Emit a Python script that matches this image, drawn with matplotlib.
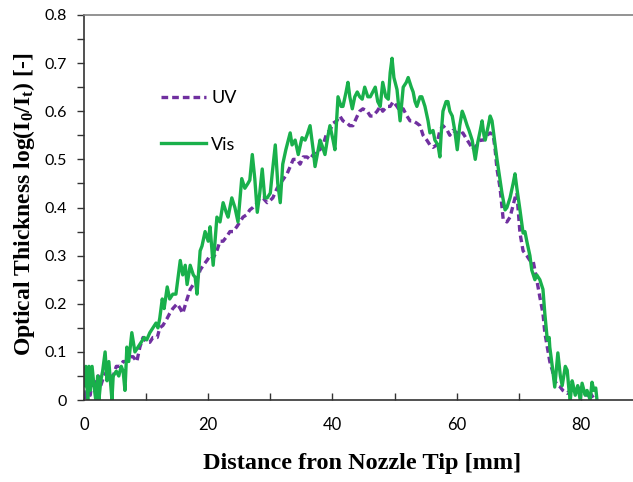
import matplotlib
matplotlib.use('Agg')
import matplotlib.pyplot as plt
from matplotlib.ticker import MultipleLocator

# Distance from nozzle tip [mm] and optical thickness
dist_uv = [0.0, 0.3, 0.6, 1.0, 1.3, 1.8, 2.3, 2.7, 3.2, 3.7, 4.2, 4.7, 5.2, 5.8, 6.3, 6.8,
           7.4, 7.9, 8.5, 9.0, 9.5, 10.1, 10.6, 11.1, 11.8, 12.2, 12.7, 13.4, 13.8, 14.3,
           15.0, 15.5, 15.9, 16.6, 17.1, 17.6, 18.2, 18.7, 19.2, 19.8, 20.3, 20.8, 21.4,
           21.9, 22.4, 23.0, 23.5, 24.0, 24.6, 25.1, 25.6, 26.2, 26.7, 27.2, 27.9, 28.3,
           28.8, 29.5, 30.0, 30.4, 31.1, 31.6, 32.0, 32.7, 33.2, 33.7, 34.3, 34.8, 35.3,
           35.9, 36.4, 36.9, 37.5, 38.0, 38.5, 39.1, 39.6, 40.1, 40.7, 41.2, 41.7, 42.4,
           42.8, 43.3, 44.0, 44.4, 44.9, 45.6, 46.1, 46.5, 47.2, 47.7, 48.1, 48.8, 49.3,
           49.8, 50.4, 50.9, 51.4, 52.0, 52.5, 53.0, 53.6, 54.1, 54.6, 55.2, 55.7, 56.2,
           56.8, 57.3, 57.8, 58.5, 58.9, 59.4, 60.1, 60.5, 61.0, 61.7, 62.2, 62.6, 63.3,
           63.8, 64.3, 64.9, 65.4, 65.9, 66.2, 66.5, 67.0, 67.5, 68.1, 68.6, 68.9, 69.4,
           69.7, 70.2, 70.7, 71.3, 71.8, 72.3, 72.9, 73.4, 73.9, 74.2, 74.6, 75.0, 75.4,
           75.8, 76.3, 76.7, 77.1, 77.8, 78.3, 78.7, 79.4, 79.9, 80.4, 81.0, 81.5, 82.0]
uv = [0.02, 0.0, 0.03, 0.01, 0.04, 0.03, 0.05, 0.03, 0.05, 0.06, 0.05, 0.05, 0.07, 0.07, 0.08, 0.08,
      0.09, 0.09, 0.08, 0.11, 0.13, 0.12, 0.12, 0.13, 0.13, 0.15, 0.155, 0.17, 0.18, 0.19,
      0.20, 0.19, 0.18, 0.21, 0.23, 0.24, 0.25, 0.27, 0.28, 0.29, 0.30, 0.295, 0.31,
      0.33, 0.33, 0.34, 0.35, 0.35, 0.36, 0.37, 0.38, 0.385, 0.395, 0.40, 0.41, 0.42,
      0.42, 0.41, 0.415, 0.42, 0.44, 0.45, 0.457, 0.47, 0.485, 0.50, 0.50, 0.49, 0.505,
      0.505, 0.50, 0.51, 0.52, 0.52, 0.53, 0.555, 0.56, 0.575, 0.58, 0.59, 0.58, 0.575,
      0.57, 0.57, 0.59, 0.60, 0.605, 0.60, 0.59, 0.59, 0.60, 0.61, 0.60, 0.61, 0.61,
      0.62, 0.61, 0.60, 0.605, 0.59, 0.58, 0.58, 0.575, 0.57, 0.55, 0.54, 0.53, 0.525,
      0.53, 0.56, 0.57, 0.56, 0.55, 0.56, 0.555, 0.55, 0.555, 0.54, 0.53, 0.52, 0.53,
      0.54, 0.54, 0.55, 0.555, 0.55, 0.52, 0.48, 0.44, 0.375, 0.37, 0.38, 0.395, 0.42,
      0.43, 0.347, 0.31, 0.30, 0.29, 0.29, 0.25, 0.214, 0.18, 0.14, 0.11, 0.08, 0.062,
      0.04, 0.03, 0.027, 0.02, 0.014, 0.02, 0.015, 0.02, 0.025, 0.02, 0.01, 0.015, 0.005]

dist_vis = [0.0, 0.3, 0.6, 0.8, 1.0, 1.3, 1.6, 1.9, 2.2, 2.4, 2.7, 3.0, 3.4, 3.7, 4.0, 4.5,
            4.7, 5.2, 5.6, 6.0, 6.3, 6.6, 6.9, 7.2, 7.7, 8.2, 8.7, 9.2, 9.7, 10.1, 10.6,
            11.1, 11.6, 11.9, 12.2, 12.6, 12.9, 13.4, 13.8, 14.3, 14.8, 15.5, 15.9, 16.3,
            16.6, 17.1, 17.6, 17.9, 18.2, 18.7, 19.0, 19.5, 20.0, 20.3, 20.8, 21.4, 21.9,
            22.4, 22.9, 23.2, 23.8, 24.3, 24.8, 25.4, 25.9, 26.4, 26.7, 27.1, 27.5, 27.9,
            28.3, 28.7, 29.1, 29.5, 30.0, 30.3, 30.8, 31.2, 31.6, 32.0, 32.5, 33.2, 33.5,
            34.0, 34.5, 35.1, 35.6, 35.9, 36.4, 36.9, 37.2, 37.7, 38.0, 38.3, 38.8, 39.3,
            39.6, 40.1, 40.4, 40.9, 41.4, 41.7, 42.2, 42.5, 42.8, 43.2, 43.6, 44.0, 44.4,
            44.8, 45.2, 45.7, 46.1, 46.5, 46.9, 47.3, 47.7, 48.1, 48.6, 49.0, 49.3, 49.6,
            49.9, 50.4, 50.9, 51.4, 51.9, 52.2, 52.7, 53.0, 53.3, 53.6, 54.1, 54.4, 54.9,
            55.4, 55.7, 56.2, 56.5, 57.0, 57.3, 57.5, 57.8, 58.3, 58.6, 58.9, 59.3, 59.7,
            60.1, 60.5, 60.9, 61.2, 61.7, 62.0, 62.5, 63.0, 63.4, 63.8, 64.1, 64.4, 64.6,
            65.1, 65.4, 65.7, 65.9, 66.2, 66.5, 67.0, 67.3, 67.8, 68.1, 68.6, 69.1, 69.4,
            69.7, 70.2, 70.7, 71.0, 71.3, 71.8, 72.1, 72.6, 72.9, 73.4, 73.9, 74.2, 74.6,
            74.9, 75.0, 75.4, 75.8, 76.3, 76.7, 77.0, 77.5, 77.8, 78.1, 78.3, 78.6, 78.7,
            79.1, 79.5, 79.9, 80.2, 80.7, 81.0, 81.5, 81.8, 82.1, 82.4, 82.6]
vis = [0.03, 0.07, 0.0, 0.07, 0.02, 0.07, 0.03, 0.0, 0.05, 0.0, 0.04, 0.06, 0.10, 0.04, 0.08, 0.0,
       0.05, 0.06, 0.05, 0.07, 0.06, 0.02, 0.11, 0.08, 0.14, 0.10, 0.11, 0.12, 0.13, 0.125, 0.14,
       0.15, 0.16, 0.15, 0.17, 0.21, 0.19, 0.235, 0.21, 0.22, 0.22, 0.29, 0.26, 0.28,
       0.24, 0.28, 0.26, 0.255, 0.22, 0.31, 0.32, 0.35, 0.33, 0.36, 0.28, 0.38, 0.37,
       0.41, 0.39, 0.38, 0.42, 0.40, 0.37, 0.46, 0.44, 0.45, 0.457, 0.51, 0.46, 0.39,
       0.43, 0.48, 0.42, 0.42, 0.43, 0.47, 0.53, 0.45, 0.41, 0.49, 0.52, 0.555, 0.53,
       0.54, 0.51, 0.545, 0.54, 0.55, 0.57, 0.52, 0.485, 0.52, 0.54, 0.53, 0.51, 0.55,
       0.57, 0.54, 0.52, 0.63, 0.61, 0.61, 0.64, 0.66, 0.63, 0.605, 0.63, 0.64, 0.63,
       0.625, 0.65, 0.63, 0.63, 0.64, 0.65, 0.62, 0.61, 0.66, 0.63, 0.625, 0.68, 0.71,
       0.67, 0.645, 0.58, 0.65, 0.66, 0.67, 0.65, 0.64, 0.62, 0.61, 0.63, 0.63, 0.61,
       0.58, 0.555, 0.56, 0.54, 0.53, 0.505, 0.55, 0.60, 0.62, 0.62, 0.60, 0.59, 0.56,
       0.52, 0.57, 0.60, 0.59, 0.57, 0.56, 0.54, 0.50, 0.535, 0.56, 0.58, 0.55, 0.54,
       0.57, 0.59, 0.58, 0.56, 0.53, 0.50, 0.457, 0.43, 0.395, 0.40, 0.42, 0.45, 0.47,
       0.44, 0.395, 0.347, 0.35, 0.33, 0.30, 0.27, 0.25, 0.26, 0.25, 0.23, 0.18, 0.125,
       0.13, 0.11, 0.07, 0.027, 0.098, 0.05, 0.03, 0.07, 0.062, 0.02, 0.0, 0.04, 0.035,
       0.01, 0.03, 0.0, 0.035, 0.01, 0.02, 0.0, 0.037, 0.02, 0.025, 0.0]

purple = '#7030A0'
green = '#19B04B'

plt.rcParams['mathtext.fontset'] = 'custom'
plt.rcParams['mathtext.rm'] = 'Liberation Serif:bold'
plt.rcParams['mathtext.it'] = 'Liberation Serif:bold'
plt.rcParams['mathtext.bf'] = 'Liberation Serif:bold'

fig = plt.figure(figsize=(6.33, 4.82), dpi=100)
ax = fig.add_axes([0.1327, 0.170, 0.883, 0.799])

ax.plot(dist_uv, uv, color=purple, lw=2.4, linestyle=(0, (2.0, 1.2)), label='UV')
ax.plot(dist_vis, vis, color=green, lw=2.4, label='Vis')

ax.set_xlim(0, 90)
ax.set_ylim(0, 0.8)

ax.xaxis.set_major_locator(MultipleLocator(20))
ax.xaxis.set_minor_locator(MultipleLocator(10))
ax.yaxis.set_major_locator(MultipleLocator(0.1))
ax.yaxis.set_minor_locator(MultipleLocator(0.05))
ax.yaxis.set_major_formatter(plt.FuncFormatter(lambda v, p: '0' if v == 0 else f'{v:.1f}'))

tick_font = 'Lato'
ax.tick_params(axis='x', which='both', direction='in', length=5, width=1, pad=12,
               labelsize=12, color='#333333')
ax.tick_params(axis='y', which='both', direction='out', length=5, width=1, pad=7,
               labelsize=11.5, color='#333333')
for lab in ax.get_xticklabels() + ax.get_yticklabels():
    lab.set_fontfamily(tick_font)

for s in ['left', 'bottom']:
    ax.spines[s].set_color('#333333')
    ax.spines[s].set_linewidth(1.2)
ax.spines['top'].set_color('#808080')
ax.spines['top'].set_linewidth(1.2)
ax.spines['right'].set_visible(False)

ax.set_xlabel('Distance fron Nozzle Tip [mm]', fontsize=17.5, fontweight='bold',
              family='Liberation Serif', va='center')
ax.set_ylabel(r'Optical Thickness log(I$_0$/I$_t$) [-]', fontsize=17, fontweight='bold',
              family='Liberation Serif', va='center')
ax.xaxis.set_label_coords(0.497, -0.164)
ax.yaxis.set_label_coords(-0.107, 0.509)

leg = ax.legend(loc='upper left', bbox_to_anchor=(0.137, 0.805), frameon=False,
                handlelength=2.5, handletextpad=0.3, labelspacing=1.7,
                borderpad=0, borderaxespad=0, prop={'family': tick_font, 'size': 13})

fig.savefig('out.png', dpi=100, facecolor='white')
